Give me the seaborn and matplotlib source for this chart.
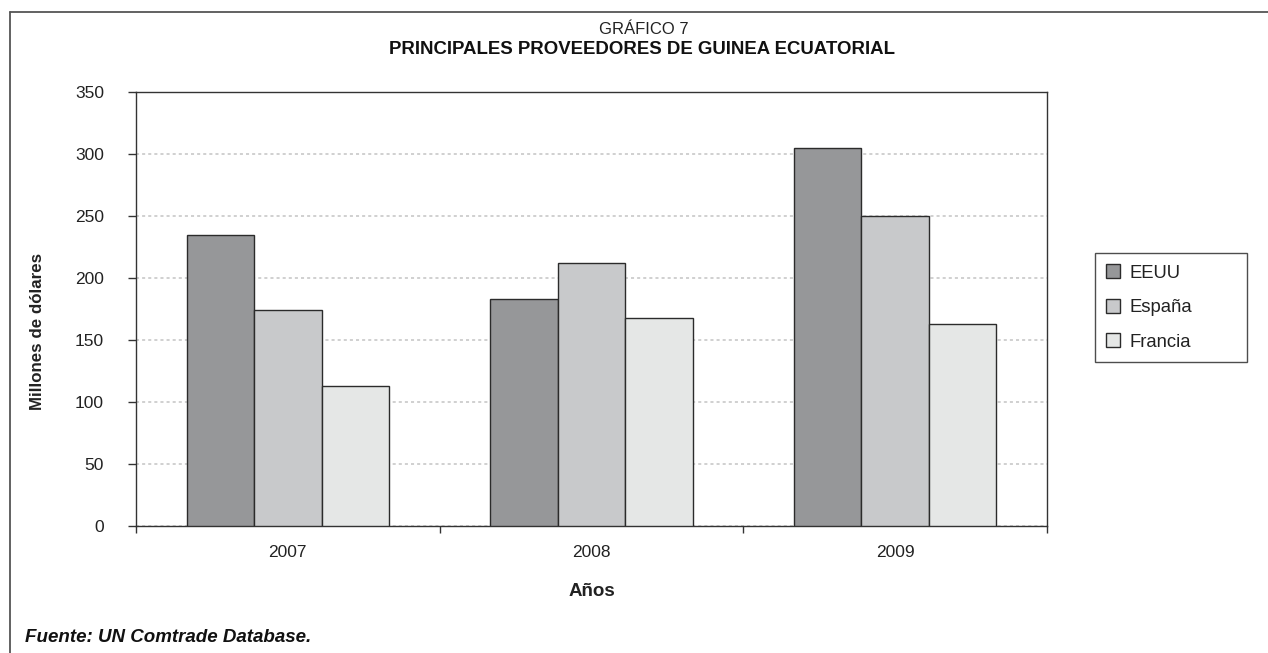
import matplotlib
matplotlib.use("Agg")
import matplotlib.pyplot as plt
import seaborn as sns
import pandas as pd
from matplotlib.lines import Line2D
from matplotlib.ticker import FixedLocator

years = ["2007", "2008", "2009"]
suppliers = ["EEUU", "España", "Francia"]
eeuu = [235, 183, 305]
espana = [174, 212, 250]
francia = [113, 168, 163]
colors = ["#969799", "#c8c9cb", "#e5e7e6"]

df = pd.DataFrame({
    "Año": years * 3,
    "Proveedor": [suppliers[0]] * 3 + [suppliers[1]] * 3 + [suppliers[2]] * 3,
    "Valor": eeuu + espana + francia,
})

sns.set_theme(style="white")
plt.rcParams["font.family"] = ["Liberation Sans", "DejaVu Sans"]

W, H = 1268, 653
fig = plt.figure(figsize=(W / 100, H / 100), dpi=100)
ax = fig.add_axes([136 / W, 1 - 526 / H, (1047 - 136) / W, (526 - 92) / H])

sns.barplot(data=df, x="Año", y="Valor", hue="Proveedor", order=years,
            hue_order=suppliers, palette=colors, width=0.667, gap=0,
            edgecolor="#2b2b2b", linewidth=1.0, saturation=1, ax=ax, zorder=3)

ax.set_xlim(-0.5, 2.5)
ax.set_ylim(0, 350)
ax.set_yticks(range(0, 351, 50))
ax.yaxis.grid(True, linestyle=(0, (2, 2)), color="#c4c4c4", linewidth=1.1, zorder=0)
ax.xaxis.grid(False)

for s in ax.spines.values():
    s.set_visible(True)
    s.set_color("#333333")
    s.set_linewidth(1.0)

ax.tick_params(axis="y", which="major", direction="out", length=6, width=1,
               color="#333333", pad=17, labelsize=12.5, labelcolor="#222222", left=True)
ax.tick_params(axis="x", which="major", length=0, pad=14, labelsize=12.5, labelcolor="#222222")
ax.xaxis.set_minor_locator(FixedLocator([-0.5, 0.5, 1.5, 2.5]))
ax.tick_params(axis="x", which="minor", direction="out", length=5, width=1,
               color="#333333", bottom=True)

ax.set_xlabel("Años", fontsize=13.5, fontweight="bold", labelpad=16, color="#222222")
ax.set_ylabel("")
fig.text(38 / W, 1 - 331.5 / H, "Millones de dólares", rotation=90, ha="center",
         va="center", fontsize=12.2, fontweight="bold", color="#222222")

fs_leg = 13.3
leg = ax.legend(loc="upper left",
                bbox_to_anchor=(1095 / W, 1 - 358 / H, (1247 - 1095) / W, (358 - 253) / H),
                bbox_transform=fig.transFigure, mode="expand", frameon=True, fancybox=False,
                fontsize=fs_leg, handlelength=0.76, handleheight=0.76,
                handletextpad=0.49, labelspacing=0.93, borderpad=0.62,
                borderaxespad=0, title=None)
leg.get_frame().set_edgecolor("#222222")
leg.get_frame().set_linewidth(1.0)
for t in leg.get_texts():
    t.set_color("#222222")

fig.text(644 / W, 1 - 30 / H, "GRÁFICO 7", ha="center", va="center",
         fontsize=12, color="#222222")
fig.text(642 / W, 1 - 49 / H, "PRINCIPALES PROVEEDORES DE GUINEA ECUATORIAL",
         ha="center", va="center", fontsize=13.4, fontweight="bold", color="#111111")
fig.text(25 / W, 1 - 637 / H, "Fuente: UN Comtrade Database.", ha="left",
         va="center", fontsize=13.5, fontweight="bold", fontstyle="italic", color="#111111")

fig.add_artist(Line2D([10 / W, 1], [1 - 12 / H, 1 - 12 / H], transform=fig.transFigure,
                      color="#555555", linewidth=1.3))
fig.add_artist(Line2D([10 / W, 10 / W], [0, 1 - 12 / H], transform=fig.transFigure,
                      color="#555555", linewidth=1.3))

fig.savefig("out.png", dpi=100)
